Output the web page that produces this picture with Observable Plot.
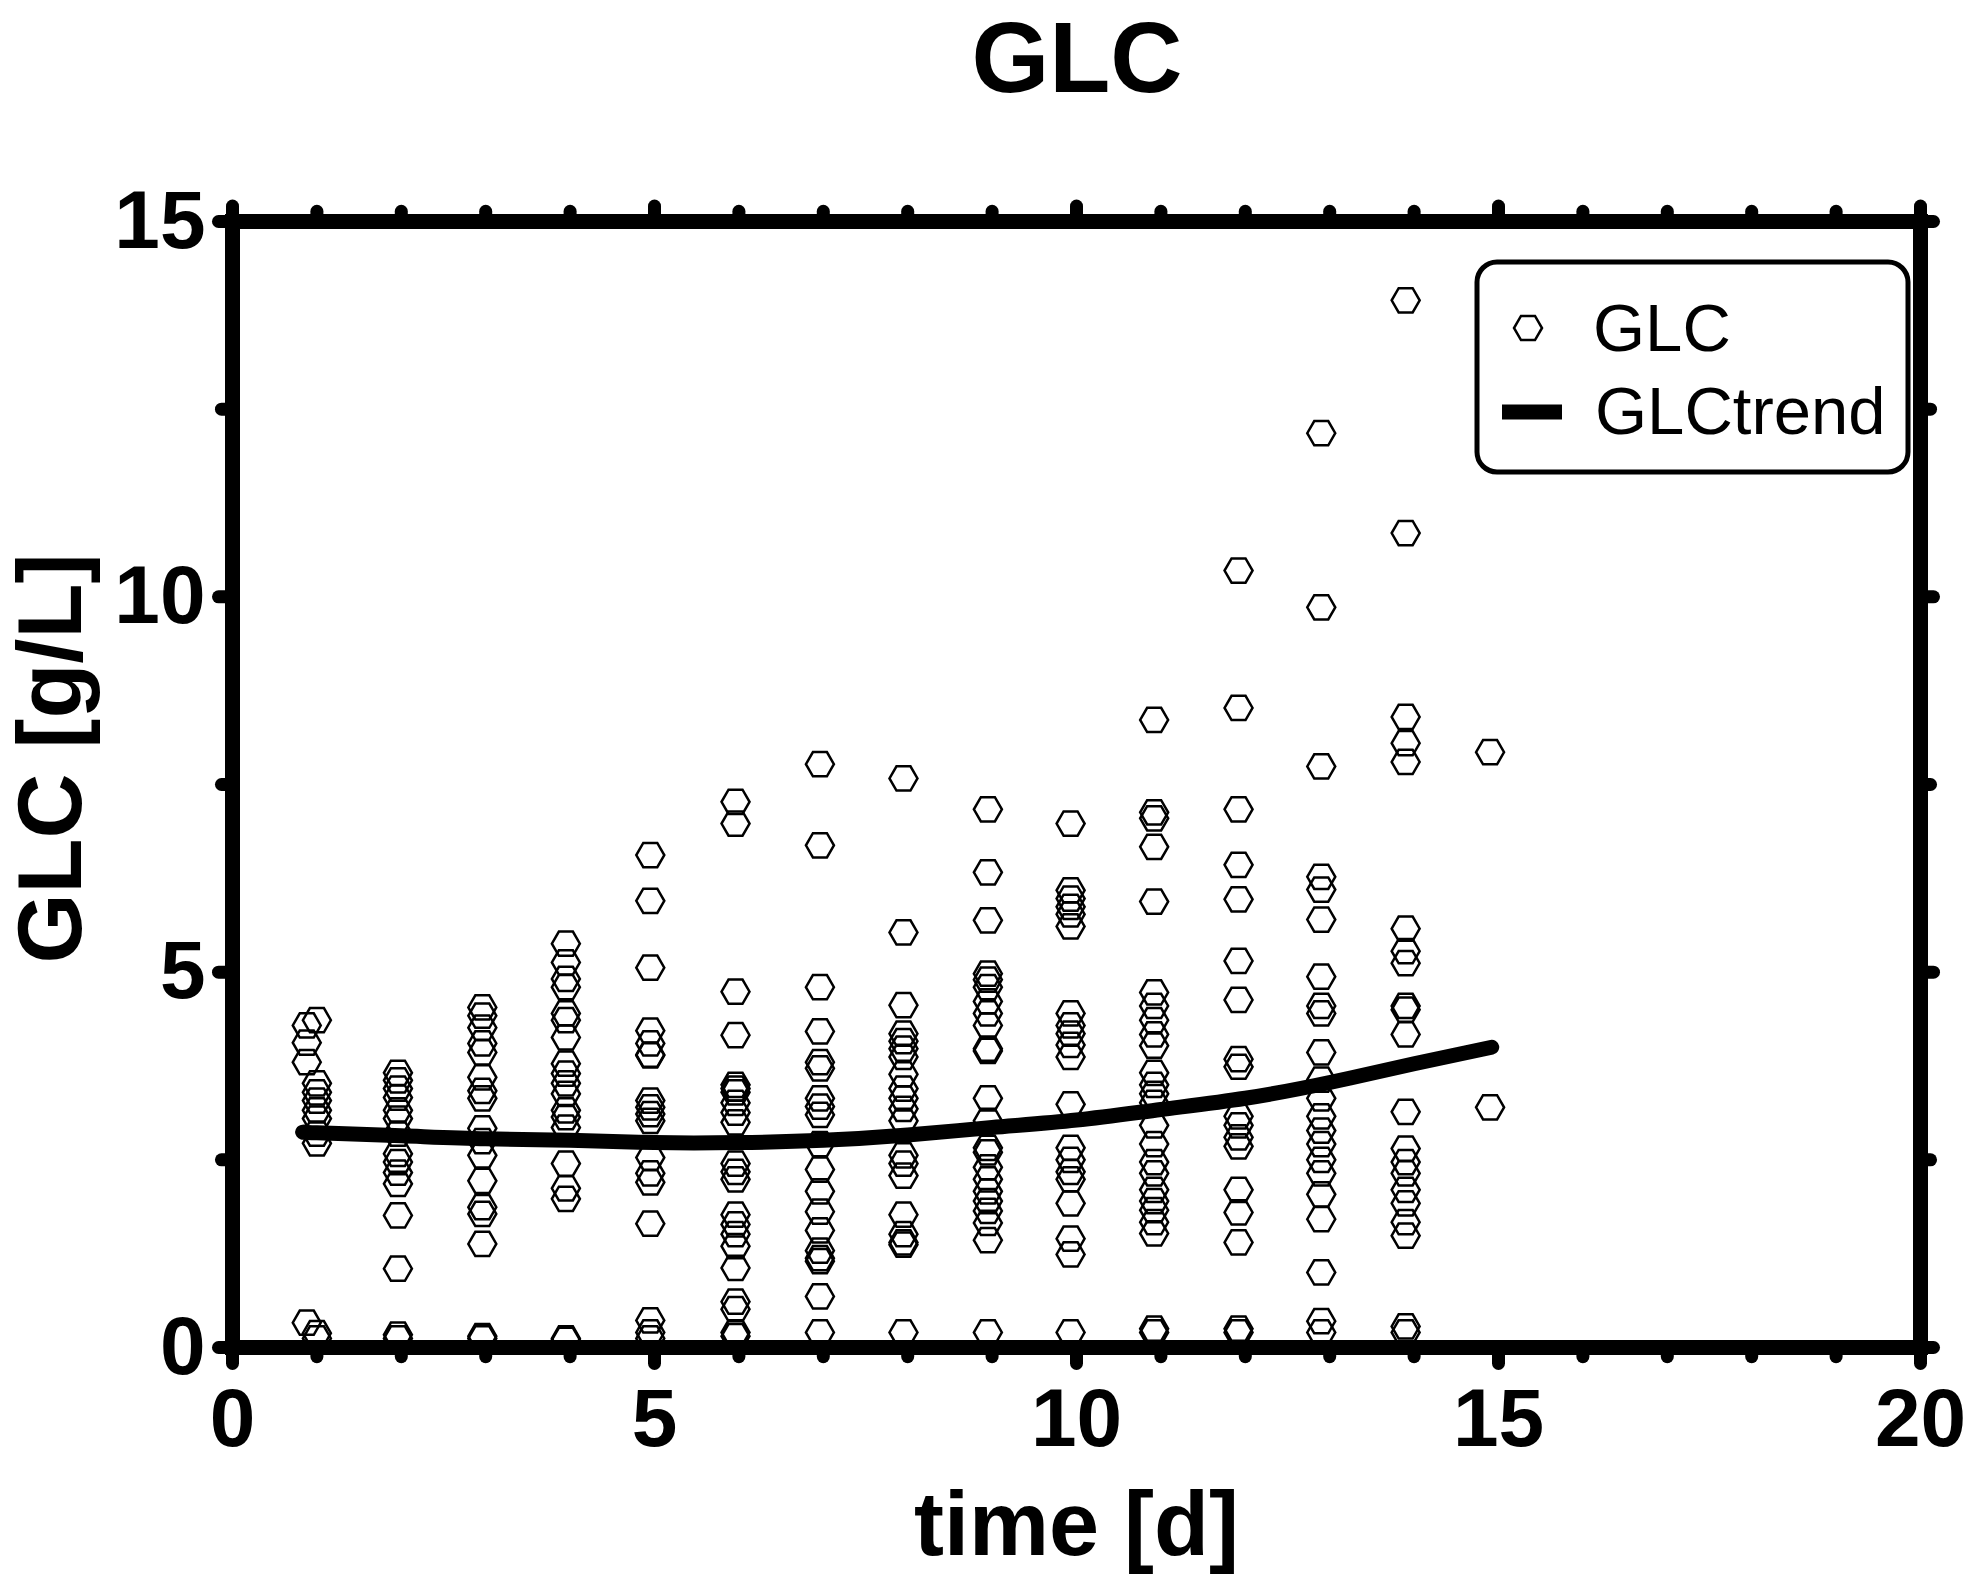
<!DOCTYPE html>
<html>
<head>
<meta charset="utf-8">
<script src="https://cdn.jsdelivr.net/npm/d3@7"></script>
<script src="https://cdn.jsdelivr.net/npm/@observablehq/plot@0.6"></script>
<style>
  body { margin: 0; background: white; }
  #title {
    height: 110px; line-height: 110px; width: 1965px; box-sizing: border-box;
    padding-left: 189px; text-align: center;
    font: bold 100px "Liberation Sans", Arial, sans-serif; color: black;
  }
</style>
</head>
<body>
<div id="title">GLC</div>
<div id="chart"></div>
<script>
// sampling times of each column of measurements (days)
const colTime = [0.88, 1.0, 1.96, 2.96, 3.95, 4.95, 5.96, 6.96, 7.95, 8.95, 9.93, 10.92, 11.92, 12.9, 13.9, 14.9]

// GLC [g/L] read per column
const glc01a = [4.29, 4.06, 3.8, 0.33]
const glc01b = [4.36, 3.52, 3.4, 3.29, 3.16, 3.05, 2.85, 2.72, 0.19, 0.12]
const glc02 = [3.66, 3.56, 3.45, 3.33, 3.16, 3.05, 2.85, 2.58, 2.47, 2.33, 2.18, 1.76, 1.05, 0.17, 0.12]
const glc03 = [4.53, 4.42, 4.26, 4.05, 3.93, 3.6, 3.42, 3.32, 2.92, 2.75, 2.56, 2.22, 1.87, 1.78, 1.38, 0.15, 0.12]
const glc04 = [5.38, 5.13, 4.91, 4.8, 4.45, 4.36, 4.13, 3.78, 3.65, 3.52, 3.38, 3.16, 3.07, 2.93, 2.45, 2.12, 1.98, 0.12, 0.1]
const glc05 = [6.56, 5.95, 5.06, 4.22, 4.05, 3.89, 3.9, 3.29, 3.2, 3.11, 3.02, 2.53, 2.32, 2.2, 1.65, 0.36, 0.2, 0.12]
const glc06 = [7.27, 6.98, 4.74, 4.16, 3.5, 3.45, 3.4, 3.26, 3.13, 3.0, 2.45, 2.34, 2.24, 1.77, 1.64, 1.51, 1.35, 1.06, 0.61, 0.51, 0.2, 0.15]
const glc07 = [7.77, 6.69, 4.8, 4.21, 3.8, 3.72, 3.32, 3.21, 3.1, 2.71, 2.37, 2.08, 1.81, 1.56, 1.29, 1.19, 1.15, 0.68, 0.2]
const glc08 = [7.58, 5.53, 4.56, 4.18, 4.08, 3.98, 3.87, 3.64, 3.45, 3.32, 3.18, 3.02, 2.56, 2.45, 2.29, 1.77, 1.51, 1.4, 1.37, 0.2]
const glc09 = [7.17, 6.33, 5.69, 4.98, 4.9, 4.8, 4.61, 4.45, 4.29, 3.98, 3.95, 3.32, 3.02, 2.66, 2.6, 2.4, 2.24, 2.08, 1.95, 1.82, 1.66, 1.43, 0.2]
const glc10 = [6.98, 6.09, 5.98, 5.87, 5.77, 5.61, 4.45, 4.29, 4.18, 4.03, 3.87, 3.24, 2.66, 2.5, 2.34, 2.24, 1.92, 1.45, 1.24, 0.2]
const glc11 = [8.36, 7.13, 7.05, 6.67, 5.94, 4.73, 4.55, 4.36, 4.17, 4.02, 3.66, 3.5, 3.38, 3.26, 2.96, 2.71, 2.47, 2.32, 2.1, 1.95, 1.83, 1.67, 1.52, 0.25, 0.2]
const glc12 = [10.35, 8.52, 7.17, 6.43, 5.97, 5.15, 4.63, 3.84, 3.74, 3.08, 2.96, 2.8, 2.68, 2.1, 1.8, 1.4, 0.25, 0.2]
const glc13 = [12.18, 9.86, 7.74, 6.27, 6.1, 5.7, 4.94, 4.55, 4.45, 3.93, 3.57, 3.32, 3.08, 2.89, 2.71, 2.5, 2.32, 2.04, 1.71, 1.0, 0.35, 0.2]
const glc14 = [13.95, 10.85, 8.4, 8.05, 7.8, 5.58, 5.28, 5.12, 4.55, 4.5, 4.17, 3.14, 2.65, 2.47, 2.32, 2.1, 1.92, 1.67, 1.49, 0.28, 0.2]
const glc15 = [7.93, 3.2]
const colValues = [glc01a, glc01b, glc02, glc03, glc04, glc05, glc06, glc07, glc08, glc09, glc10, glc11, glc12, glc13, glc14, glc15]

// trend curve
const trendTime = [0.85, 1, 2, 3, 4, 5, 6, 7, 8, 9, 10, 11, 12, 13, 14, 14.92]
const trendGLC = [2.87, 2.86, 2.82, 2.78, 2.76, 2.73, 2.73, 2.76, 2.83, 2.93, 3.03, 3.17, 3.32, 3.53, 3.78, 4.0]

// axis ticks
const xTickLabels = [0, 5, 10, 15, 20]
const yTickLabels = [0, 5, 10, 15]
const xTickMarks = [0, 1, 2, 3, 4, 5, 6, 7, 8, 9, 10, 11, 12, 13, 14, 15, 16, 17, 18, 19, 20]
const yTickMarks = [0, 2.5, 5, 7.5, 10, 12.5, 15]

const points = colValues.flatMap((vals, i) => vals.map(v => ({t: colTime[i], v})))
const trend = trendTime.map((t, i) => ({t, v: trendGLC[i]}))

// flat topped hexagon, like the Prism marker
const hexFlat = {
  draw(context, size) {
    const r = Math.sqrt(size / Math.PI), h = r * Math.sqrt(3) / 2
    context.moveTo(r, 0)
    context.lineTo(r / 2, h)
    context.lineTo(-r / 2, h)
    context.lineTo(-r, 0)
    context.lineTo(-r / 2, -h)
    context.lineTo(r / 2, -h)
    context.closePath()
  }
}

const isMajor = d => d % 5 === 0

let chart = Plot.plot({
  width: 1965,
  height: 1479,
  marginTop: 111,
  marginBottom: 242,
  marginLeft: 232,
  marginRight: 45,
  style: {
    fontFamily: "'Liberation Sans', Arial, sans-serif",
    fontSize: "82px",
    fontWeight: "bold",
    color: "black",
    background: "white",
    overflow: "visible"
  },
  x: {domain: [0, 20], ticks: xTickLabels, tickSize: 0, tickPadding: 40, label: null},
  y: {domain: [0, 15], ticks: yTickLabels, tickSize: 0, tickPadding: 27, label: null},
  marks: [
    Plot.dot(points, {x: "t", y: "v", symbol: hexFlat, r: 14, stroke: "black", strokeWidth: 2.5, fill: "none"}),
    Plot.line(trend, {x: "t", y: "v", curve: "natural", stroke: "black", strokeWidth: 15, strokeLinecap: "round"}),
    // tick bumps on all four sides
    Plot.ruleX(xTickMarks, {x: d => d, y1: 0, y2: d => isMajor(d) ? -0.22 : -0.13, strokeWidth: 13, strokeLinecap: "round"}),
    Plot.ruleX(xTickMarks, {x: d => d, y1: 15, y2: d => isMajor(d) ? 15.2 : 15.13, strokeWidth: 13, strokeLinecap: "round"}),
    Plot.ruleY(yTickMarks, {y: d => d, x1: 0, x2: d => isMajor(d) ? -0.16 : -0.125, strokeWidth: 13, strokeLinecap: "round"}),
    Plot.ruleY(yTickMarks, {y: d => d, x1: 20, x2: d => isMajor(d) ? 20.16 : 20.125, strokeWidth: 13, strokeLinecap: "round"}),
    Plot.frame({stroke: "black", strokeWidth: 15}),
    Plot.text(["time [d]"], {frameAnchor: "bottom", textAnchor: "middle", dy: 207, fontSize: 90, fontWeight: "bold"}),
    Plot.text(["GLC [g/L]"], {frameAnchor: "left", textAnchor: "middle", dx: -180, dy: -26, rotate: -90, fontSize: 90, fontWeight: "bold"})
  ]
})

// legend box inside the plot, top right
const svg = d3.select(chart)
const lg = svg.append("g").attr("aria-label", "legend").attr("text-anchor", "start")
lg.append("rect").attr("x", 1477).attr("y", 152).attr("width", 431).attr("height", 210)
  .attr("rx", 20).attr("fill", "white").attr("stroke", "black").attr("stroke-width", 5)
lg.append("path").attr("transform", "translate(1528,218)")
  .attr("d", d3.symbol(hexFlat, 14 * 14 * Math.PI)()).attr("fill", "none").attr("stroke", "black").attr("stroke-width", 2.5)
lg.append("line").attr("x1", 1502).attr("x2", 1562).attr("y1", 302).attr("y2", 302)
  .attr("stroke", "black").attr("stroke-width", 15)
lg.selectAll("text.lab").data([["GLC", 1593, 241], ["GLCtrend", 1595, 324]]).join("text")
  .attr("x", d => d[1]).attr("y", d => d[2]).text(d => d[0])
  .attr("font-size", 67).attr("font-weight", "normal").attr("fill", "black")

d3.select('#chart').append(() => chart)
</script>
</body>
</html>
